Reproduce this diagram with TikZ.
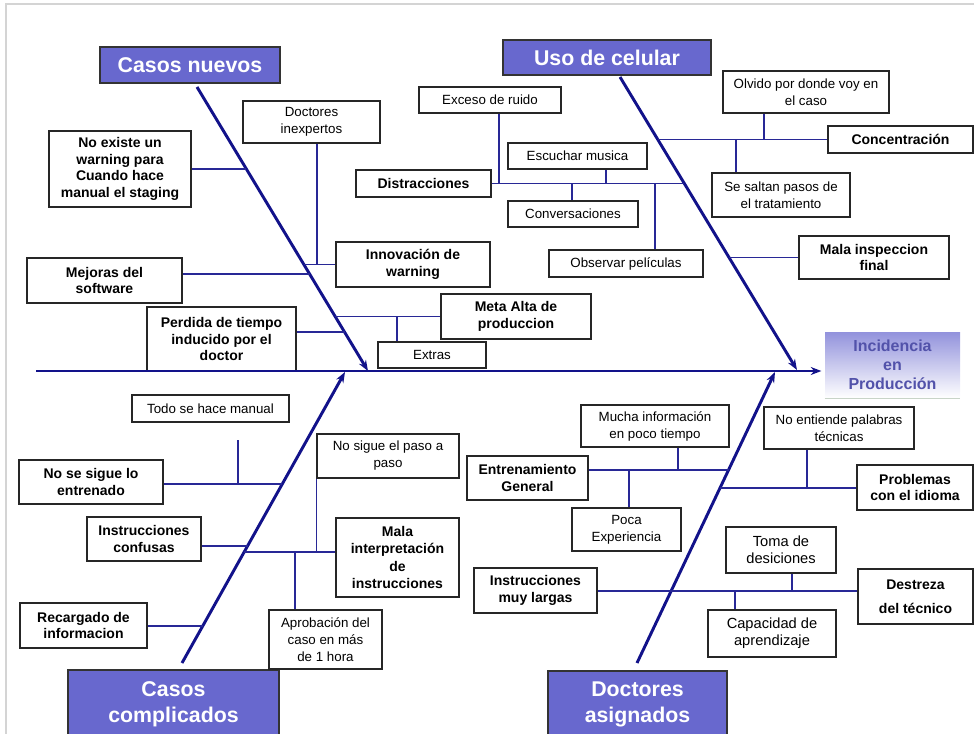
\documentclass[tikz,border=0pt]{standalone}
\usepackage{fontspec}
\setmainfont{Liberation Sans}
\usetikzlibrary{arrows.meta,calc}
\newlength\pxu
\setlength\pxu{0.75pt}
\definecolor{ribblue}{RGB}{18,18,138}
\definecolor{twigblue}{RGB}{40,40,150}
\definecolor{catfill}{RGB}{104,104,206}
\definecolor{headtop}{RGB}{146,146,220}
\definecolor{headtext}{RGB}{82,82,170}
\definecolor{headline}{RGB}{200,212,200}
\definecolor{framegray}{RGB}{212,212,212}
\begin{document}
\begin{tikzpicture}[x=0.75pt,y=-0.75pt,
  rib/.style={draw=ribblue, line width=2.2pt},
  ribarrow/.style={rib, -{Stealth[length=8pt,width=6pt]}},
  twig/.style={draw=twigblue, line width=1pt},
  cbox/.style 2 args={draw=black!85, line width=0.9pt, fill=white,
    minimum width=#1\pxu, minimum height=#2\pxu, inner sep=0pt, align=center,
    font=\fontsize{10}{12.75}\selectfont},
  bbox/.style 2 args={cbox={#1}{#2}, font=\fontsize{10.5}{12.4}\selectfont\bfseries},
  catbox/.style 2 args={draw=black!80, line width=1pt, fill=catfill, text=white,
    minimum width=#1\pxu, minimum height=#2\pxu, inner sep=0pt, align=center,
    font=\fontsize{16}{19.5}\selectfont\bfseries},
  headbox/.style={top color=headtop, bottom color=white, minimum width=135\pxu,
    minimum height=66\pxu, inner sep=0pt, align=center, text=headtext,
    font=\fontsize{12}{14.25}\selectfont\bfseries},
]
\useasboundingbox (0,0) rectangle (974,734);

% page frame
\draw[framegray, line width=1.4pt] (6,740) -- (6,4) -- (980,4);

% ---------- category headers ----------
\node[catbox={180}{36}] (cnT) at (190,65) {Casos nuevos};
\node[catbox={208}{35}] (ucT) at (607,57.5) {Uso de celular};
\node[catbox={211}{68}] (ccT) at (173.5,704) {Casos\\complicados};
\node[catbox={179}{67}] (daT) at (637.5,704.5) {Doctores\\asignados};

% ---------- effect ----------
\node[headbox] (head) at (892.5,365) {Incidencia\\en\\Producción};
\draw[headline, line width=1pt] (head.south west) -- (head.south east);

% ---------- causes: Casos nuevos ----------
\node[bbox={142}{76}] (noexiste) at (120,169) {No existe un\\warning para\\Cuando hace\\manual el staging};
\node[cbox={137}{42}] (doctinex) at (311.5,122) {Doctores\\inexpertos};
\node[bbox={154}{45}] (innov) at (413,264.5) {Innovación de\\warning};
\node[bbox={155}{45}] (mejoras) at (104.5,280.5) {Mejoras del\\software};
\node[bbox={149}{64}] (perdida) at (221.5,339) {Perdida de tiempo\\inducido por el\\doctor};
\node[bbox={150}{45}] (meta) at (516,316.5) {Meta Alta de\\produccion};
\node[cbox={108}{26}] (extras) at (432,355) {Extras};

% ---------- causes: Uso de celular ----------
\node[cbox={142}{26}] (exceso) at (490,100) {Exceso de ruido};
\node[bbox={135}{27}] (distr) at (423.5,183.5) {Distracciones};
\node[cbox={139}{26}] (escuchar) at (577.5,156) {Escuchar musica};
\node[cbox={130}{26}] (convers) at (573,214) {Conversaciones};
\node[cbox={154}{27}] (observar) at (626,263.5) {Observar películas};
\node[cbox={166}{42}] (olvido) at (806,92) {Olvido por donde voy en\\el caso};
\node[bbox={145}{27}] (concent) at (900.5,139.5) {Concentración};
\node[cbox={138}{44}] (saltan) at (781,195) {Se saltan pasos de\\el tratamiento};
\node[bbox={150}{43}] (malainsp) at (874,257.5) {Mala inspeccion\\final};

% ---------- causes: Casos complicados ----------
\node[cbox={157}{27}] (todo) at (210.5,408.5) {Todo se hace manual};
\node[bbox={144}{44}] (nosigueent) at (91,482) {No se sigue lo\\entrenado};
\node[bbox={114}{44}] (confusas) at (144,539) {Instrucciones\\confusas};
\node[bbox={123}{79}, font=\fontsize{10.5}{12.9}\selectfont\bfseries] (malainterp) at (397.5,557.5) {Mala\\interpretación\\de\\instrucciones};
\node[cbox={142}{44}] (nosiguepaso) at (388,456) {No sigue el paso a\\paso};
\node[cbox={113}{59}] (aprob) at (325.5,639.5) {Aprobación del\\caso en más\\de 1 hora};
\node[bbox={127}{45}] (recarg) at (83.5,625.5) {Recargado de\\informacion};

% ---------- causes: Doctores asignados ----------
\node[cbox={148}{42}] (mucha) at (655,426) {Mucha información\\en poco tiempo};
\node[bbox={121}{44}] (entren) at (527.5,478) {Entrenamiento\\General};
\node[cbox={109}{43}] (poca) at (626.5,529.5) {Poca\\Experiencia};
\node[cbox={150}{42}] (noentiende) at (839,428) {No entiende palabras\\técnicas};
\node[bbox={116}{45}] (problemas) at (915,487.5) {Problemas\\con el idioma};
\node[cbox={110}{46}, font=\fontsize{11}{13}\selectfont] (toma) at (781,550) {Toma de\\desiciones};
\node[cbox={128}{47}, font=\fontsize{11}{13}\selectfont] (capacidad) at (772,633.5) {Capacidad de\\aprendizaje};
\node[bbox={115}{55}, font=\fontsize{10.5}{18}\selectfont\bfseries] (destreza) at (915.5,596.5) {Destreza\\del técnico};
\node[bbox={123}{45}] (instlargas) at (535.5,590.5) {Instrucciones\\muy largas};

% ---------- spine and ribs ----------
\coordinate (spL) at (36,371);
\draw[rib, -{Stealth[length=8pt,width=6pt]}, shorten >=2.5pt] (spL) -- (spL -| head.west);

\coordinate (cnA) at (197,87);   \coordinate (cnB) at (368,371);
\coordinate (ucA) at (620,77);   \coordinate (ucB) at (797,370);
\coordinate (ccA) at (182,663);  \coordinate (ccB) at (345,372);
\coordinate (daA) at (637,663);  \coordinate (daB) at (775,372);
\draw[ribarrow] (cnA) -- (cnB);
\draw[ribarrow] (ucA) -- (ucB);
\draw[ribarrow] (ccA) -- (ccB);
\draw[ribarrow] (daA) -- (daB);

% ---------- junctions on the ribs ----------
\coordinate (cnJ1) at (245.8,169);
\coordinate (cnJ2) at (303.9,264.5);
\coordinate (cnJ3) at (309.6,274);
\coordinate (cnJ4) at (344.5,332);
\coordinate (cnJ5) at (335.2,316.5);
\coordinate (dtJ) at (317,264.5);
\coordinate (exJ) at (397,316.5);

\coordinate (ucJ1) at (684.3,183.5);
\coordinate (ucJ2) at (657.8,139.5);
\coordinate (ucJ3) at (729,257.5);
\coordinate (erJ) at (499,183.5);
\coordinate (emJ) at (606,183.5);
\coordinate (coJ) at (572,183.5);
\coordinate (obJ) at (655,183.5);
\coordinate (olJ) at (764,139.5);
\coordinate (saJ) at (736,139.5);

\coordinate (ccJ1) at (282.3,484);
\coordinate (ccJ2) at (247.5,546);
\coordinate (ccJ3) at (244.2,552);
\coordinate (ccJ4) at (202.7,626);
\coordinate (tdA) at (238,440);
\coordinate (tdB) at (238,484);
\coordinate (apJ) at (295,552);

\coordinate (daJ1) at (728.5,470);
\coordinate (daJ2) at (720,488);
\coordinate (daJ3) at (671.1,591);
\coordinate (muJ) at (678,470);
\coordinate (poJ) at (629,470);
\coordinate (neJ) at (807,488);
\coordinate (toJ) at (792,591);
\coordinate (caJ) at (735,591);

% ---------- branches ----------
\draw[twig] (noexiste.east |- cnJ1) -- (cnJ1);
\draw[twig] (cnJ2) -- (innov.west |- cnJ2);
\draw[twig] (doctinex.south -| dtJ) -- (dtJ);
\draw[twig] (mejoras.east |- cnJ3) -- (cnJ3);
\draw[twig] (perdida.east |- cnJ4) -- (cnJ4);
\draw[twig] (cnJ5) -- (meta.west |- cnJ5);
\draw[twig] (exJ) -- (extras.north -| exJ);

\draw[twig] (distr.east |- ucJ1) -- (ucJ1);
\draw[twig] (exceso.south -| erJ) -- (erJ);
\draw[twig] (escuchar.south -| emJ) -- (emJ);
\draw[twig] (coJ) -- (convers.north -| coJ);
\draw[twig] (obJ) -- (observar.north -| obJ);
\draw[twig] (ucJ2) -- (concent.west |- ucJ2);
\draw[twig] (olvido.south -| olJ) -- (olJ);
\draw[twig] (saJ) -- (saltan.north -| saJ);
\draw[twig] (ucJ3) -- (malainsp.west |- ucJ3);

\draw[twig] (nosigueent.east |- ccJ1) -- (ccJ1);
\draw[twig] (tdA) -- (tdB);
\draw[twig] (confusas.east |- ccJ2) -- (ccJ2);
\draw[twig] (ccJ3) -- (malainterp.west |- ccJ3);
\draw[twig] (nosiguepaso.south west) -- (nosiguepaso.south west |- ccJ3);
\draw[twig] (apJ) -- (aprob.north -| apJ);
\draw[twig] (recarg.east |- ccJ4) -- (ccJ4);

\draw[twig] (entren.east |- daJ1) -- (daJ1);
\draw[twig] (mucha.south -| muJ) -- (muJ);
\draw[twig] (poJ) -- (poca.north -| poJ);
\draw[twig] (daJ2) -- (problemas.west |- daJ2);
\draw[twig] (noentiende.south -| neJ) -- (neJ);
\draw[twig] (instlargas.east |- daJ3) -- (destreza.west |- daJ3);
\draw[twig] (toma.south -| toJ) -- (toJ);
\draw[twig] (caJ) -- (capacidad.north -| caJ);
\end{tikzpicture}
\end{document}
